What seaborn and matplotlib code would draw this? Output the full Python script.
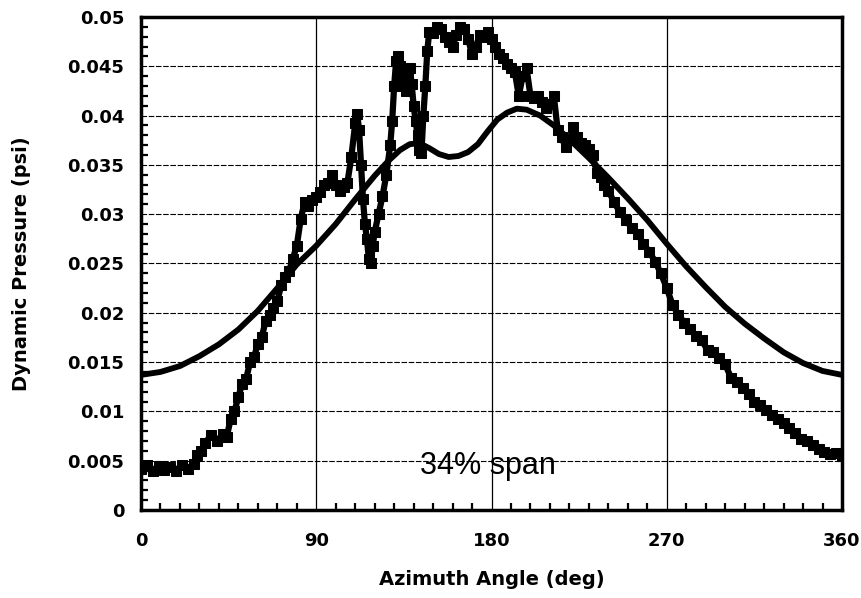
import numpy as np
import pandas as pd
import matplotlib
matplotlib.use("Agg")
import matplotlib.pyplot as plt
import seaborn as sns
from matplotlib.ticker import MultipleLocator

# ---- data -------------------------------------------------------------
measured_angle = [0, 3, 6, 9, 12, 15, 18, 21, 24, 27, 29, 31, 33, 36, 39, 42, 44, 46, 48, 50,
                  52, 54, 56, 58, 60, 62, 64, 66, 68, 70, 72, 74, 76, 78, 80, 82, 84, 86, 88, 90,
                  92, 94, 96, 98, 100, 102, 104, 106, 108, 110, 111, 112, 113, 114, 115, 116, 117, 118, 119, 120,
                  122, 124, 126, 128, 129, 130, 131, 132, 133, 134, 135, 136, 137, 138, 139, 140, 141, 142, 143, 144,
                  145, 146, 147, 148, 150, 152, 154, 156, 158, 160, 162, 164, 166, 168, 170, 172, 174, 176, 178, 180,
                  182, 184, 186, 188, 190, 192, 194, 196, 198, 200, 202, 204, 206, 208, 210, 212, 214, 216, 218, 220,
                  222, 224, 226, 228, 230, 232, 234, 236, 238, 240, 243, 246, 249, 252, 255, 258, 261, 264, 267, 270,
                  273, 276, 279, 282, 285, 288, 291, 294, 297, 300, 303, 306, 309, 312, 315, 318, 321, 324, 327, 330,
                  333, 336, 339, 342, 345, 348, 351, 354, 357, 360]
measured_pressure = [0.0042, 0.0046, 0.0040, 0.0045, 0.0041, 0.0044, 0.0040, 0.0046, 0.0042, 0.0047,
                     0.0056, 0.0060, 0.0068, 0.0076, 0.0070, 0.0077, 0.0074, 0.0092, 0.0100, 0.0115,
                     0.0128, 0.0133, 0.0150, 0.0155, 0.0168, 0.0175, 0.0192, 0.0198, 0.0205, 0.0212,
                     0.0228, 0.0236, 0.0242, 0.0255, 0.0268, 0.0295, 0.0312, 0.0308, 0.0314, 0.0317,
                     0.0322, 0.0330, 0.0332, 0.0340, 0.0330, 0.0324, 0.0328, 0.0332, 0.0358, 0.0392,
                     0.0402, 0.0385, 0.0350, 0.0315, 0.0290, 0.0275, 0.0255, 0.0250, 0.0268, 0.0282,
                     0.0300, 0.0318, 0.0340, 0.0370, 0.0395, 0.0430, 0.0455, 0.0460, 0.0450, 0.0438,
                     0.0430, 0.0425, 0.0440, 0.0448, 0.0432, 0.0410, 0.0395, 0.0380, 0.0365, 0.0362,
                     0.0400, 0.0430, 0.0465, 0.0485, 0.0484, 0.0490, 0.0488, 0.0480, 0.0475, 0.0470,
                     0.0482, 0.0490, 0.0488, 0.0478, 0.0462, 0.0470, 0.0482, 0.0480, 0.0485, 0.0478,
                     0.0470, 0.0462, 0.0458, 0.0452, 0.0448, 0.0444, 0.0420, 0.0440, 0.0448, 0.0420,
                     0.0418, 0.0420, 0.0414, 0.0408, 0.0412, 0.0420, 0.0385, 0.0378, 0.0368, 0.0375,
                     0.0388, 0.0378, 0.0372, 0.0370, 0.0366, 0.0360, 0.0342, 0.0338, 0.0330, 0.0324,
                     0.0312, 0.0302, 0.0294, 0.0286, 0.0280, 0.0270, 0.0262, 0.0252, 0.0240, 0.0225,
                     0.0208, 0.0198, 0.0190, 0.0184, 0.0176, 0.0172, 0.0162, 0.0160, 0.0154, 0.0148,
                     0.0134, 0.0130, 0.0124, 0.0118, 0.0110, 0.0106, 0.0101, 0.0096, 0.0092, 0.0088,
                     0.0083, 0.0078, 0.0072, 0.0070, 0.0066, 0.0062, 0.0059, 0.0057, 0.0058, 0.0055]

predicted_angle = [0, 10, 20, 30, 40, 50, 60, 70, 80, 90, 100, 110, 120, 127, 133, 138, 143, 148,
                   153, 158, 163, 168, 173, 178, 183, 188, 193, 198, 205, 212, 220, 230, 240, 250,
                   260, 270, 280, 290, 300, 310, 320, 330, 340, 350, 360]
predicted_pressure = [0.0137, 0.0140, 0.0146, 0.0156, 0.0168, 0.0183, 0.0202, 0.0225, 0.0249, 0.0268,
                      0.0290, 0.0315, 0.0339, 0.0354, 0.0365, 0.0371, 0.0372, 0.0367, 0.0361, 0.0358,
                      0.0359, 0.0363, 0.0371, 0.0384, 0.0396, 0.0403, 0.0407, 0.0406, 0.0400, 0.0390,
                      0.0376, 0.0357, 0.0337, 0.0316, 0.0294, 0.0270, 0.0247, 0.0226, 0.0206, 0.0189,
                      0.0174, 0.0160, 0.0149, 0.0141, 0.0137]

x_ticks = [0, 90, 180, 270, 360]
x_tick_labels = ["0", "90", "180", "270", "360"]
y_ticks = [0, 0.005, 0.01, 0.015, 0.02, 0.025, 0.03, 0.035, 0.04, 0.045, 0.05]
y_tick_labels = ["0", "0.005", "0.01", "0.015", "0.02", "0.025", "0.03", "0.035", "0.04", "0.045", "0.05"]

# ---- plot -------------------------------------------------------------
sns.set_theme(style="white")
plt.rcParams["font.family"] = ["DejaVu Sans"]

fig = plt.figure(figsize=(8.62, 5.98), dpi=100)
ax = fig.add_axes([0.1636, 0.1472, 0.8132, 0.8244])

# grid
for yv in y_ticks[1:-1]:
    ax.axhline(yv, color="black", lw=0.8, ls=(0, (5, 1.5)), zorder=1)
for xv in x_ticks[1:-1]:
    ax.axvline(xv, color="black", lw=0.9, zorder=1)

meas = pd.DataFrame({"angle": measured_angle, "p": measured_pressure})
pred = pd.DataFrame({"angle": predicted_angle, "p": predicted_pressure})

sns.lineplot(data=meas, x="angle", y="p", ax=ax, color="black", lw=4.5,
             marker="s", markersize=6.5, markeredgecolor="black", zorder=3,
             estimator=None, sort=False)
sns.lineplot(data=pred, x="angle", y="p", ax=ax, color="black", lw=4.2,
             zorder=4, estimator=None, sort=False,
             solid_joinstyle="round", solid_capstyle="round")

ax.set_xlim(0, 360)
ax.set_ylim(0, 0.05)
ax.set_xticks(x_ticks)
ax.set_xticklabels(x_tick_labels)
ax.set_yticks(y_ticks)
ax.set_yticklabels(y_tick_labels)
ax.xaxis.set_minor_locator(MultipleLocator(10))
ax.yaxis.set_minor_locator(MultipleLocator(0.001))
ax.tick_params(axis="both", which="major", length=0, labelsize=13, colors="black")
ax.tick_params(axis="x", which="major", pad=16)
ax.tick_params(axis="y", which="major", pad=12)
ax.tick_params(axis="both", which="minor", direction="in", length=5, width=1.6,
               color="black", bottom=True, left=True, top=False, right=False)
for lbl in ax.get_xticklabels() + ax.get_yticklabels():
    lbl.set_fontweight("bold")

for s in ax.spines.values():
    s.set_color("black")
    s.set_linewidth(2.5)

ax.set_xlabel("Azimuth Angle (deg)", fontsize=14, fontweight="bold", labelpad=14, color="black")
ax.set_ylabel("Dynamic Pressure (psi)", fontsize=14, fontweight="bold", labelpad=26, color="black")

ax.text(178, 0.0045, "34% span", fontsize=22, family="Liberation Sans",
        ha="center", va="center", color="black", zorder=5)

fig.savefig("out.png", dpi=100, facecolor="white")
